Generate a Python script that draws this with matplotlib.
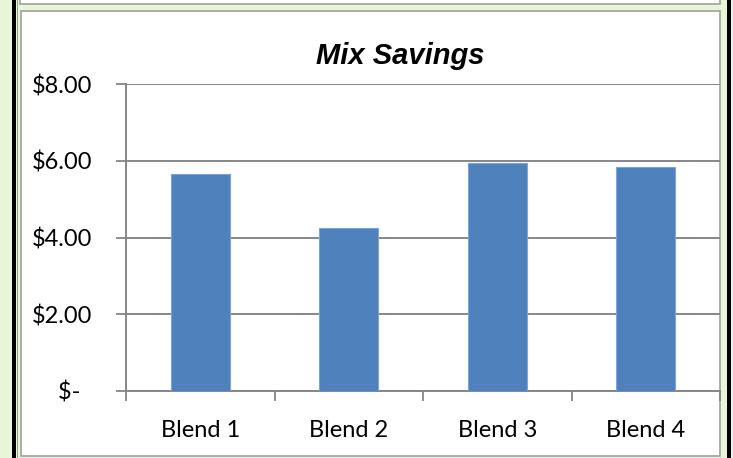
import matplotlib.pyplot as plt
from matplotlib.patches import Rectangle

# data
blends = ['Blend 1', 'Blend 2', 'Blend 3', 'Blend 4']
savings = [5.65, 4.25, 5.93, 5.83]
y_ticks = [0, 2, 4, 6, 8]
y_labels = ['$-  ', '$2.00', '$4.00', '$6.00', '$8.00']

W, H = 733, 458
fig = plt.figure(figsize=(W / 100, H / 100), dpi=100)
fig.patch.set_facecolor('#E8F5D6')

def box(x0, y0, x1, y1, **kw):
    # pixel box (top-left origin) -> figure coords
    fig.patches.append(Rectangle((x0 / W, 1 - y1 / H), (x1 - x0) / W, (y1 - y0) / H,
                                 transform=fig.transFigure, figure=fig, zorder=-10, **kw))

# frame decorations
box(20, -5, 720, 3.5, facecolor='white', edgecolor='#A0A0A0', lw=1.2)
box(20.5, 10.5, 720, 456, facecolor='white', edgecolor='#A0A0A0', lw=1.2)
box(12, -2, 16, H + 2, facecolor='black', edgecolor='none')
box(727, -2, 731, H + 2, facecolor='black', edgecolor='none')
box(16.5, -2, 17.5, H + 2, facecolor='#9A9A9A', edgecolor='none')

ax = fig.add_axes([126 / W, 1 - 391 / H, (720 - 126) / W, (391 - 84) / H])
ax.set_facecolor('none')

x = range(len(blends))
ax.bar(x, savings, width=0.4, color='#4F81BD', edgecolor='#7FA4D3', linewidth=0.8, zorder=3)

ax.set_xlim(-0.5, 3.5)
ax.set_ylim(0, 8)
ax.set_yticks(y_ticks)
ax.set_yticklabels(y_labels)
ax.yaxis.grid(True, color='#868686', linewidth=1.4, zorder=0)
ax.set_axisbelow(True)

ax.set_xticks([-0.5, 0.5, 1.5, 2.5, 3.5])
ax.set_xticklabels([])
ax.set_xticks(list(x), minor=True)
ax.set_xticklabels(blends, minor=True)
ax.tick_params(axis='x', which='minor', length=0, pad=21)
ax.tick_params(axis='x', which='major', length=7, width=1.3, color='#868686')
ax.tick_params(axis='y', length=7, width=1.3, color='#868686', pad=17)
for lbl in ax.get_xticklabels(minor=True) + ax.get_yticklabels():
    lbl.set_fontfamily('Lato')
    lbl.set_fontsize(17)

for s in ['top', 'right']:
    ax.spines[s].set_visible(False)
for s in ['left', 'bottom']:
    ax.spines[s].set_color('#868686')
    ax.spines[s].set_linewidth(1.4)

fig.text(400 / W, 1 - 56 / H, 'Mix Savings', ha='center', va='center',
         fontsize=21, fontweight='bold', fontstyle='italic', family='Liberation Sans')

fig.savefig('out.png', dpi=100, facecolor=fig.get_facecolor())
